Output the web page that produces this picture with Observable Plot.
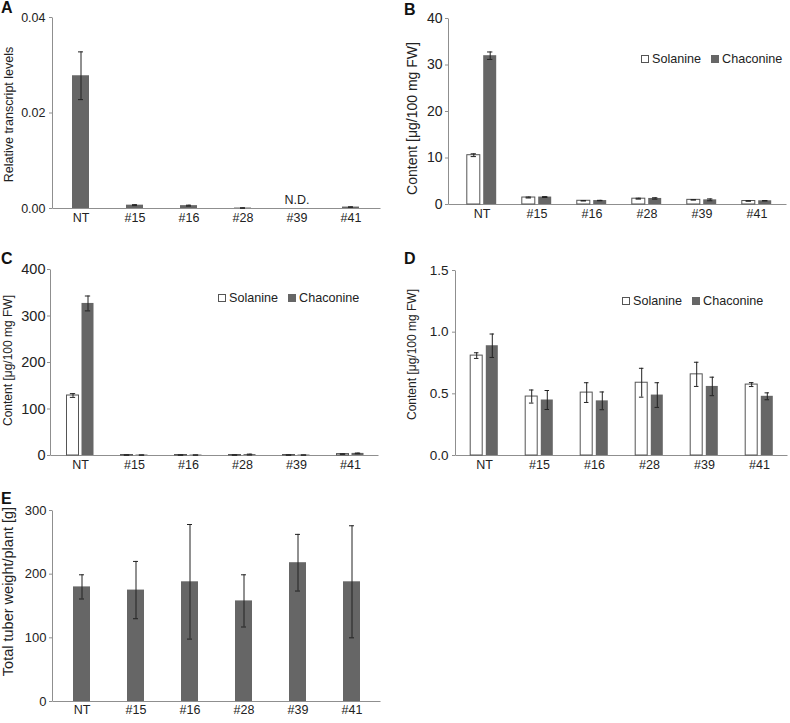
<!DOCTYPE html>
<html><head><meta charset="utf-8">
<script src="https://cdn.jsdelivr.net/npm/d3@7"></script>
<script src="https://cdn.jsdelivr.net/npm/@observablehq/plot@0.6"></script>
<style>
body{margin:0;background:#fff;font-family:"Liberation Sans",Arial,sans-serif;}
#fig{position:relative;width:790px;height:723px;overflow:hidden;background:#fff;}
.panel{position:absolute;}
.letter{position:absolute;font-weight:bold;font-size:16px;line-height:16px;color:#111;}
.legend{position:absolute;font-size:12.6px;color:#222;white-space:nowrap;line-height:14px;display:flex;align-items:center;}
.sq{display:inline-block;width:8px;height:8px;box-sizing:border-box;margin-right:3px;}
.sq.open{border:1px solid #555;background:#fff;}
.sq.dark{background:#666;margin-left:10px;}
</style></head><body><div id="fig"></div>
<script>
// ---------- data ----------
const genotypes = ["NT", "#15", "#16", "#28", "#39", "#41"];
const seriesNames = ["Solanine", "Chaconine"];

// A: relative transcript levels
const transcriptLevel = [0.0278, 0.0007, 0.0006, 0.0001, null, 0.0003];
const transcriptError = [0.005, 0.0001, 0.0001, 0.00005, null, 0.00005];
const transcriptNote  = ["", "", "", "", "N.D.", ""];
const transcriptTicks = [0, 0.02, 0.04];

// B: content (panel B)
const bSolanine     = [10.6, 1.5, 0.8, 1.25, 1.0, 0.75];
const bSolanineErr  = [0.3, 0.1, 0.05, 0.1, 0.05, 0.05];
const bChaconine    = [32.0, 1.6, 0.85, 1.3, 1.0, 0.8];
const bChaconineErr = [0.8, 0.1, 0.05, 0.15, 0.2, 0.05];
const bTicks = [0, 10, 20, 30, 40];

// C: content (panel C)
const cSolanine     = [129, 1, 1, 1, 1, 3];
const cSolanineErr  = [4, 0.3, 0.3, 0.3, 0.3, 0.5];
const cChaconine    = [327, 1, 1, 2, 1, 4.5];
const cChaconineErr = [16, 0.3, 0.3, 1, 0.3, 0.8];
const cTicks = [0, 100, 200, 300, 400];

// D: content (panel D)
const dSolanine     = [0.81, 0.478, 0.51, 0.59, 0.658, 0.575];
const dSolanineErr  = [0.023, 0.053, 0.08, 0.117, 0.098, 0.016];
const dChaconine    = [0.89, 0.45, 0.443, 0.49, 0.56, 0.48];
const dChaconineErr = [0.095, 0.077, 0.072, 0.1, 0.075, 0.028];
const dTicks = [0, 0.5, 1.0, 1.5];

// E: total tuber weight per plant
const tuberWeight    = [180, 175, 188, 158, 218, 188];
const tuberWeightErr = [19, 45, 90, 41, 44.5, 88];
const eTicks = [0, 100, 200, 300];

// ---------- drawing ----------
const AXIS = "#8f8f8f";
const DARK = "#666666";
const ERR = "#222222";
const fig = document.getElementById("fig");

function drawPanel(cfg) {
  const n = genotypes.length;
  const s = (cfg.cLast - cfg.c0) / (n - 1);
  const range = [cfg.c0 - s / 2 - cfg.left, cfg.cLast + s / 2 - cfg.left];
  const pi = 1 - cfg.barW / s;
  const W = cfg.width - cfg.mL - cfg.mR, H = cfg.height - cfg.mT - cfg.mB;
  const ins = (cfg.barW - 5) / 2;
  const marks = [
    Plot.frame({stroke: AXIS, strokeDasharray: `0 ${W + H} ${W + H}`}),
    Plot.axisY({ticks: cfg.yTicks, tickFormat: cfg.yFmt, tickSize: 3, tickPadding: cfg.tickPad,
                stroke: AXIS, fontSize: cfg.yFont, label: null}),
    Plot.axisX({tickSize: 0, tickPadding: cfg.xPad, fontSize: 12.5, label: null}),
    Plot.text([cfg.yLabel], {text: d => d, frameAnchor: "left", rotate: -90,
      dx: cfg.yLabelX - cfg.left - cfg.mL, dy: cfg.yLabelY - cfg.top - (cfg.mT + H / 2),
      fontSize: cfg.yLabelFont, textAnchor: "middle", lineAnchor: "middle", fill: "#222"})
  ];
  const allRows = cfg.series.map(se => genotypes.map((g, i) => ({g, v: se.values[i], e: se.errors[i], note: se.notes ? se.notes[i] : ""})));
  cfg.series.forEach((se, k) => {
    const rows = allRows[k].filter(d => d.v != null);
    marks.push(Plot.barY(rows, {x: "g", y: "v", dx: se.dx, fill: se.fill, stroke: se.stroke || "none", strokeWidth: 1}));
  });
  cfg.series.forEach((se, k) => {
    const rows = allRows[k].filter(d => d.v != null && d.e != null);
    marks.push(Plot.ruleX(rows, {x: "g", y1: d => d.v - d.e, y2: d => d.v + d.e, dx: se.dx, stroke: ERR, strokeWidth: 1}));
    marks.push(Plot.tickY(rows, {x: "g", y: d => d.v + d.e, dx: se.dx, insetLeft: ins, insetRight: ins, stroke: ERR, strokeWidth: 1}));
    marks.push(Plot.tickY(rows, {x: "g", y: d => d.v - d.e, dx: se.dx, insetLeft: ins, insetRight: ins, stroke: ERR, strokeWidth: 1}));
    if (se.notes) {
      marks.push(Plot.text(allRows[k].filter(d => d.note), {x: "g", y: 0, text: "note", dy: -5, lineAnchor: "bottom", fontSize: 12.5, fill: "#222"}));
    }
  });
  const svg = Plot.plot({
    width: cfg.width, height: cfg.height,
    marginLeft: cfg.mL, marginRight: cfg.mR, marginTop: cfg.mT, marginBottom: cfg.mB,
    x: {type: "band", domain: genotypes, range, paddingInner: pi, paddingOuter: pi / 2, align: 0.5, label: null},
    y: {domain: cfg.yDomain, label: null},
    style: {fontFamily: '"Liberation Sans", Arial, sans-serif', fontSize: "12.5px", color: "#222", background: "transparent", overflow: "visible"},
    marks
  });
  const div = document.createElement("div");
  div.className = "panel";
  div.style.left = cfg.left + "px";
  div.style.top = cfg.top + "px";
  div.appendChild(svg);
  fig.appendChild(div);
}

const f2 = d => d.toFixed(2), f1 = d => d.toFixed(1), f0 = d => d.toFixed(0);

drawPanel({left: 0, top: 0, width: 395, height: 232, mL: 52, mR: 15, mT: 17, mB: 24,
  c0: 79.2, cLast: 352.3, barW: 17, yDomain: [0, 0.04], yTicks: transcriptTicks, yFmt: f2,
  yFont: 12.5, tickPad: 4, xPad: 5, yLabel: "Relative transcript levels", yLabelFont: 12.5, yLabelX: 8, yLabelY: 114,
  series: [{values: transcriptLevel, errors: transcriptError, notes: transcriptNote, fill: DARK, dx: 0}]});

drawPanel({left: 395, top: 0, width: 395, height: 232, mL: 53, mR: 4, mT: 18, mB: 28,
  c0: 480.5, cLast: 757.5, barW: 12.7, yDomain: [0, 40], yTicks: bTicks, yFmt: f0,
  yFont: 14, tickPad: 3, xPad: 5, yLabel: "Content [μg/100 mg FW]", yLabelFont: 14, yLabelX: 412, yLabelY: 118,
  series: [{values: bSolanine, errors: bSolanineErr, fill: "#fff", stroke: "#555", dx: -8.2},
           {values: bChaconine, errors: bChaconineErr, fill: DARK, dx: 8.2}]});

drawPanel({left: 0, top: 232, width: 395, height: 248, mL: 50, mR: 17, mT: 37, mB: 25,
  c0: 78, cLast: 351.5, barW: 11.7, yDomain: [0, 400], yTicks: cTicks, yFmt: f0,
  yFont: 14.5, tickPad: 2, xPad: 5, yLabel: "Content [μg/100 mg FW]", yLabelFont: 12, yLabelX: 8, yLabelY: 360,
  series: [{values: cSolanine, errors: cSolanineErr, fill: "#fff", stroke: "#555", dx: -7.5},
           {values: cChaconine, errors: cChaconineErr, fill: DARK, dx: 7.5}]});

drawPanel({left: 395, top: 232, width: 395, height: 248, mL: 60, mR: 3, mT: 38, mB: 25,
  c0: 483, cLast: 759.5, barW: 12.5, yDomain: [0, 1.5], yTicks: dTicks, yFmt: f1,
  yFont: 13.5, tickPad: 4, xPad: 5, yLabel: "Content [μg/100 mg FW]", yLabelFont: 12, yLabelX: 412, yLabelY: 354,
  series: [{values: dSolanine, errors: dSolanineErr, fill: "#fff", stroke: "#555", dx: -7.8},
           {values: dChaconine, errors: dChaconineErr, fill: DARK, dx: 7.8}]});

drawPanel({left: 0, top: 480, width: 395, height: 243, mL: 52, mR: 15, mT: 30, mB: 22,
  c0: 81.8, cLast: 352, barW: 17, yDomain: [0, 300], yTicks: eTicks, yFmt: f0,
  yFont: 13, tickPad: 3, xPad: 4, yLabel: "Total tuber weight/plant [g]", yLabelFont: 14.5, yLabelX: 8, yLabelY: 591,
  series: [{values: tuberWeight, errors: tuberWeightErr, fill: DARK, dx: 0}]});

// panel letters
[["A", 1, 0], ["B", 404, 2], ["C", 1, 251], ["D", 404, 251], ["E", 1, 491]].forEach(([t, x, y]) => {
  const d = document.createElement("div");
  d.className = "letter"; d.textContent = t;
  d.style.left = x + "px"; d.style.top = y + "px";
  fig.appendChild(d);
});

// legends
[[641, 59], [218, 297.5], [622, 301]].forEach(([x, yc]) => {
  const d = document.createElement("div");
  d.className = "legend";
  d.style.left = x + "px"; d.style.top = (yc - 7) + "px";
  d.innerHTML = `<span class="sq open"></span><span>${seriesNames[0]}</span><span class="sq dark"></span><span>${seriesNames[1]}</span>`;
  fig.appendChild(d);
});
</script>
</body></html>
